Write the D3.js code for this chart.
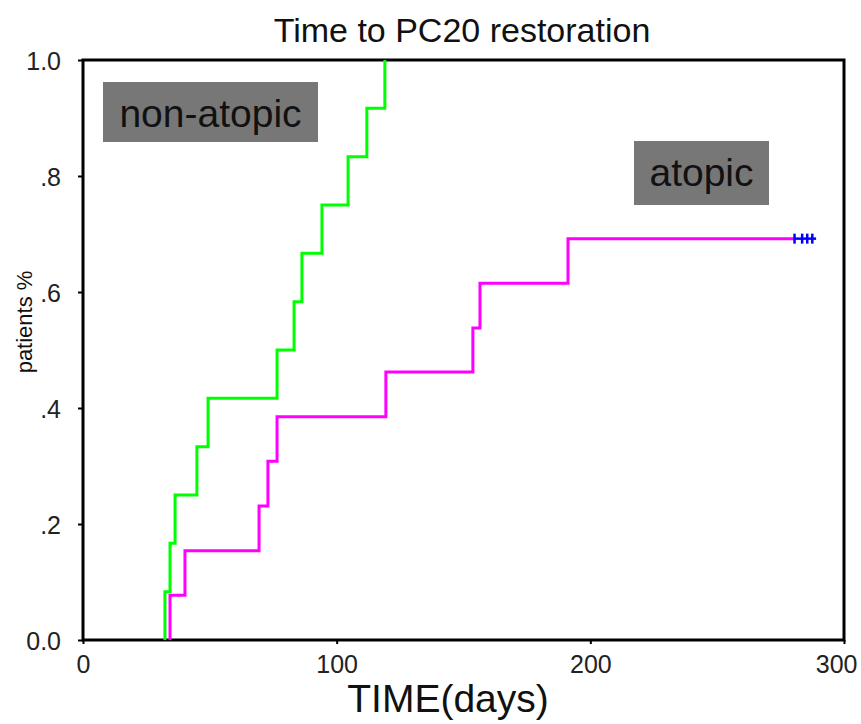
<!DOCTYPE html>
<html>
<head>
<meta charset="utf-8">
<script src="https://cdn.jsdelivr.net/npm/d3@7"></script>
<style>
  body { margin: 0; background: #fff; }
  svg { font-family: "Liberation Sans", Arial, sans-serif; }
</style>
</head>
<body>
<svg id="chart" width="861" height="724"></svg>
<script>
// Kaplan-Meier style cumulative curves
var nonAtopicDays = [32.3, 34.3, 36.3, 44.9, 49.3, 76.5, 83.2, 86.3, 94.2, 104.5, 111.9, 119.0];
var nonAtopicCum  = [0.083, 0.167, 0.25, 0.333, 0.417, 0.5, 0.583, 0.667, 0.75, 0.833, 0.917, 1.0];

var atopicDays = [34.3, 40.2, 69.4, 72.9, 76.5, 119.4, 153.7, 156.5, 191.2];
var atopicCum  = [0.077, 0.154, 0.231, 0.308, 0.385, 0.462, 0.538, 0.615, 0.692];
var atopicCensored = [280.5, 283.5, 285.5, 287.5];
var atopicEnd = 289;

var xTicks = [0, 100, 200, 300];
var yTicks = [0, 0.2, 0.4, 0.6, 0.8, 1.0];
var yTickLabels = ["0.0", ".2", ".4", ".6", ".8", "1.0"];

var svg = d3.select('#chart');
var plotLeft = 83, plotRight = 844, plotTop = 60, plotBottom = 640;

var x = d3.scaleLinear().domain([0, 300]).range([plotLeft, plotRight]);
var y = d3.scaleLinear().domain([0, 1]).range([plotBottom, plotTop]);

// frame
svg.append('rect')
    .attr('x', plotLeft).attr('y', plotTop)
    .attr('width', plotRight - plotLeft).attr('height', plotBottom - plotTop)
    .style('fill', 'none').style('stroke', '#000').style('stroke-width', 3);

// axes
var xAxis = d3.axisBottom(x).tickValues(xTicks).tickSize(4).tickFormat(d3.format('d'));
var gx = svg.append('g').attr('transform', 'translate(0,' + plotBottom + ')').call(xAxis);
gx.select('.domain').remove();
gx.selectAll('line').style('stroke', '#000').style('stroke-width', 2);
gx.selectAll('text').attr('y', 33).attr('dy', null).style('font-size', '25px').style('fill', '#222');
// last label is pulled in so it stays inside the page
gx.selectAll('text').filter(d => d === 300).attr('text-anchor', 'end').attr('x', 13);

var yAxis = d3.axisLeft(y).tickValues(yTicks).tickSize(5).tickFormat((d, i) => yTickLabels[i]);
var gy = svg.append('g').attr('transform', 'translate(' + plotLeft + ',0)').call(yAxis);
gy.select('.domain').remove();
gy.selectAll('line').style('stroke', '#000').style('stroke-width', 2);
gy.selectAll('text').attr('x', -22).attr('dy', '0.36em').style('font-size', '25px').style('fill', '#222');

// step lines
var line = d3.line()
    .x(d => x(d[0]))
    .y(d => y(d[1]))
    .curve(d3.curveStepAfter);

function stepPoints(days, cum, endDay) {
    var pts = [[days[0], 0]];
    for (var i = 0; i < days.length; i++) pts.push([days[i], cum[i]]);
    if (endDay !== undefined) pts.push([endDay, cum[cum.length - 1]]);
    return pts;
}

svg.append('path')
    .datum(stepPoints(atopicDays, atopicCum, atopicCensored[0]))
    .attr('d', line)
    .style('fill', 'none').style('stroke', '#ff00ff').style('stroke-width', 3);

svg.append('path')
    .datum(stepPoints(nonAtopicDays, nonAtopicCum))
    .attr('d', line)
    .style('fill', 'none').style('stroke', '#00ff00').style('stroke-width', 3);

// censored tail
var lastCum = atopicCum[atopicCum.length - 1];
svg.append('line')
    .attr('x1', x(atopicCensored[0])).attr('x2', x(atopicEnd))
    .attr('y1', y(lastCum)).attr('y2', y(lastCum))
    .style('stroke', '#0000ff').style('stroke-width', 2.5);

svg.selectAll('.censor')
    .data(atopicCensored)
    .enter()
    .append('line')
    .classed('censor', true)
    .attr('x1', d => x(d)).attr('x2', d => x(d))
    .attr('y1', y(lastCum) - 5).attr('y2', y(lastCum) + 5)
    .style('stroke', '#0000ff').style('stroke-width', 2.5);

// group labels
var labels = [
    {text: 'non-atopic', x: 103, y: 82, w: 215, h: 60, base: 127},
    {text: 'atopic', x: 634, y: 141, w: 135, h: 64, base: 186}
];
labels.forEach(function (l) {
    svg.append('rect')
        .attr('x', l.x).attr('y', l.y).attr('width', l.w).attr('height', l.h)
        .style('fill', '#777');
    svg.append('text')
        .attr('x', l.x + l.w / 2).attr('y', l.base)
        .attr('text-anchor', 'middle')
        .style('font-size', '39px').style('fill', '#111')
        .text(l.text);
});

// titles
svg.append('text')
    .attr('x', 462).attr('y', 42)
    .attr('text-anchor', 'middle')
    .style('font-size', '34px').style('fill', '#111')
    .text('Time to PC20 restoration');

svg.append('text')
    .attr('x', 448).attr('y', 712)
    .attr('text-anchor', 'middle')
    .style('font-size', '39px').style('fill', '#111')
    .text('TIME(days)');

svg.append('text')
    .attr('transform', 'translate(32,322) rotate(-90)')
    .attr('text-anchor', 'middle')
    .style('font-size', '22px').style('fill', '#111')
    .text('patients %');
</script>
</body>
</html>
